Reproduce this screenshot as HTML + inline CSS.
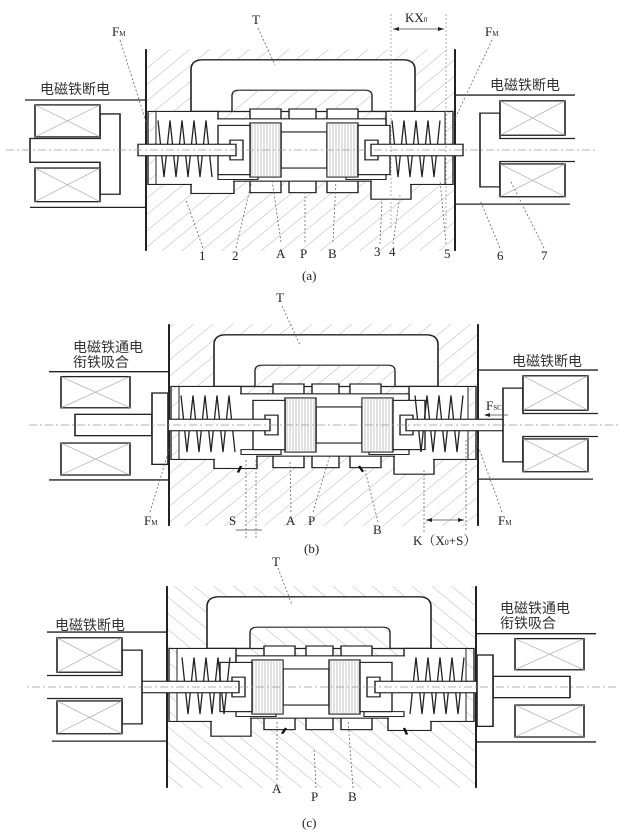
<!DOCTYPE html>
<html><head><meta charset="utf-8"><style>
html,body{margin:0;padding:0;background:#fff;}
svg{display:block}
text{font-family:"Liberation Serif","Noto Serif CJK SC",serif;fill:#222;font-size:13px}
.cn{font-family:"Liberation Sans","Noto Sans CJK SC",sans-serif;font-size:14px;fill:#333}
.ld{stroke:#666;stroke-width:0.8;stroke-dasharray:2,2;fill:none}
</style></head><body>
<svg width="630" height="836" viewBox="0 0 630 836" xmlns="http://www.w3.org/2000/svg">
<defs>
<pattern id="h" width="14" height="14" patternUnits="userSpaceOnUse" patternTransform="rotate(45)">
<line x1="0" y1="0" x2="0" y2="14" stroke="#999" stroke-width="0.8"/>
</pattern>
<pattern id="v" width="3" height="3" patternUnits="userSpaceOnUse">
<line x1="1" y1="0" x2="1" y2="3" stroke="#aaa" stroke-width="0.7"/>
</pattern>
<g id="body">
<rect x="0" y="-123" width="309" height="246" fill="url(#h)"/>
<path d="M45,-47 V-98 Q45,-110 57,-110 H257 Q269,-110 269,-98 V-47 Z" fill="#fff" stroke="#222" stroke-width="1.6"/>
<path d="M86,-47 V-66 Q86,-73 93,-73 H219 Q226,-73 226,-66 V-47 Z" fill="#fff" stroke="#222" stroke-width="1.4"/>
<path d="M86,-47 V-66 Q86,-73 93,-73 H219 Q226,-73 226,-66 V-47 Z" fill="url(#h)"/>
<g fill="#fff" stroke="#222" stroke-width="1.4">
<rect x="45" y="30" width="43" height="23"/>
<rect x="225" y="30" width="40" height="30"/>
<rect x="2" y="-47" width="70" height="89"/>
<rect x="240" y="-47" width="67" height="89"/>
<rect x="104" y="-50" width="31" height="102"/>
<rect x="143" y="-50" width="27" height="102"/>
<rect x="181" y="-50" width="31" height="102"/>
<rect x="70" y="-38" width="170" height="76"/>
</g>
<g fill="#fff" stroke="none">
<rect x="3" y="-46" width="68" height="87"/>
<rect x="241" y="-46" width="65" height="87"/>
<rect x="71" y="-37" width="168" height="74"/>
<rect x="46" y="31" width="41" height="21"/>
<rect x="226" y="31" width="38" height="28"/>
</g>
<rect x="2" y="-47" width="8" height="89" fill="url(#h)" stroke="#222" stroke-width="1"/>
<rect x="299" y="-47" width="8" height="89" fill="url(#h)" stroke="#222" stroke-width="1"/>
<line x1="0" y1="-123" x2="0" y2="123" stroke="#222" stroke-width="2"/>
<line x1="309" y1="-123" x2="309" y2="123" stroke="#222" stroke-width="2"/>
<rect x="72" y="30" width="40" height="6" fill="#fff" stroke="#222" stroke-width="1.2"/>
<rect x="200" y="30" width="40" height="6" fill="#fff" stroke="#222" stroke-width="1.2"/>
</g>
<g id="spool">
<rect x="135" y="-22" width="46" height="44" fill="#fff" stroke="#222" stroke-width="1.4"/>
<rect x="104" y="-33" width="31" height="66" fill="#fff" stroke="#222" stroke-width="1.4"/>
<rect x="104" y="-33" width="31" height="66" fill="url(#v)"/>
<rect x="181" y="-33" width="31" height="66" fill="#fff" stroke="#222" stroke-width="1.4"/>
<rect x="181" y="-33" width="31" height="66" fill="url(#v)"/>
<rect x="72" y="-30" width="32" height="60" fill="#fff" stroke="#222" stroke-width="1.4"/>
<rect x="212" y="-30" width="32" height="60" fill="#fff" stroke="#222" stroke-width="1.4"/>
<rect x="84" y="-12" width="13" height="24" fill="#fff" stroke="#222" stroke-width="1.4"/>
<rect x="219" y="-12" width="13" height="24" fill="#fff" stroke="#222" stroke-width="1.4"/>
</g>
<g id="springs" fill="none" stroke="#222" stroke-width="1.3">
<polyline points="12,-36 18,33 24,-36 30,33 36,-36 42,33 48,-36 54,33 60,-36 66,33"/>
<polyline points="246,-36 252,33 258,-36 264,33 270,-36 276,33 282,-36 288,33 294,-36"/>
</g>
<g id="solL_off" stroke="#222" stroke-width="1.6" fill="#fff">
<line x1="-121" y1="-61" x2="0" y2="-61"/>
<line x1="-116" y1="70" x2="0" y2="70"/>
<path d="M-116,-14 H-46 V-44 H-26 V54 H-46 V15 H-116 Z"/>
<rect x="-111" y="-55" width="65" height="39"/>
<rect x="-111" y="22" width="65" height="41"/>
<path d="M-111,-55 L-46,-16 M-46,-55 L-111,-16 M-111,22 L-46,63 M-46,22 L-111,63" stroke="#aaa" stroke-width="0.8"/>
</g>
<g id="solL_on" stroke="#222" stroke-width="1.6" fill="#fff">
<line x1="-120" y1="-65" x2="0" y2="-65"/>
<line x1="-120" y1="67" x2="0" y2="67"/>
<rect x="-108" y="-59" width="69" height="38"/>
<rect x="-108" y="22" width="69" height="39"/>
<path d="M-108,-59 L-39,-21 M-39,-59 L-108,-21 M-108,22 L-39,61 M-39,22 L-108,61" stroke="#aaa" stroke-width="0.8"/>
<rect x="-94" y="-13" width="77" height="26"/>
<rect x="-17" y="-39" width="16" height="87"/>
</g>
<g id="solR_off" stroke="#222" stroke-width="1.6" fill="#fff">
<line x1="309" y1="-67" x2="429" y2="-67"/>
<line x1="309" y1="66" x2="424" y2="66"/>
<path d="M429,-14 H354 V-45 H334 V45 H354 V14 H429"/>
<rect x="354" y="-60" width="65" height="42"/>
<rect x="354" y="17" width="65" height="40"/>
<path d="M354,-60 L419,-18 M419,-60 L354,-18 M354,17 L419,57 M419,17 L354,57" stroke="#aaa" stroke-width="0.8"/>
</g>
</defs>

<!-- Panel a -->
<g transform="translate(146,150) scale(1,0.82)">
<use href="#body"/>
<use href="#spool"/>
<use href="#springs"/>
<rect x="-8" y="-7" width="98" height="14" fill="#fff" stroke="#222" stroke-width="1.4"/>
<rect x="225" y="-7" width="92" height="14" fill="#fff" stroke="#222" stroke-width="1.4"/>
<use href="#solL_off"/>
<use href="#solR_off"/>
<line x1="-140" y1="0" x2="450" y2="0" stroke="#999" stroke-width="0.8" stroke-dasharray="8,3,2,3"/>
</g>
<text x="252" y="24" font-size="14">T</text>
<line class="ld" x1="258" y1="28" x2="275" y2="65"/>
<text x="112" y="36">F<tspan font-size="7">M</tspan></text>
<line class="ld" x1="120" y1="40" x2="148" y2="128"/>
<text x="485" y="36">F<tspan font-size="7">M</tspan></text>
<line class="ld" x1="492" y1="40" x2="452" y2="125"/>
<text x="405" y="22">KX<tspan font-size="7">0</tspan></text>
<line x1="391" y1="14" x2="391" y2="230" stroke="#999" stroke-width="0.8" stroke-dasharray="2,2"/>
<line x1="446" y1="14" x2="446" y2="230" stroke="#999" stroke-width="0.8" stroke-dasharray="2,2"/>
<line x1="393" y1="29" x2="444" y2="29" stroke="#444" stroke-width="0.8"/>
<path d="M393,29 l6,-2 v4 z M444,29 l-6,-2 v4 z" fill="#222"/>
<text class="cn" x="40" y="94">电磁铁断电</text>
<text class="cn" x="490" y="90">电磁铁断电</text>
<g font-size="12">
<text x="199" y="260">1</text><text x="232" y="260">2</text>
<text x="276" y="258" font-size="14">A</text><text x="300" y="258" font-size="14">P</text><text x="328" y="258" font-size="14">B</text>
<text x="374" y="256">3</text><text x="389" y="256">4</text><text x="444" y="258">5</text>
<text x="497" y="260">6</text><text x="541" y="260">7</text>
<text x="302" y="280">(a)</text>
</g>
<path class="ld" d="M203,248 L186,200 M236,248 L252,180 M281,242 L272,180 M305,242 L305,190 M333,242 L336,180 M380,244 L382,200 M393,244 L400,195 M446,244 L440,180 M500,248 L480,200 M544,248 L510,180"/>

<!-- Panel b -->
<g transform="translate(169,425) scale(1,0.82)">
<use href="#body"/>
<g transform="translate(12,0)"><use href="#spool"/></g>
<use href="#springs"/>
<rect x="-1" y="-7" width="102" height="14" fill="#fff" stroke="#222" stroke-width="1.4"/>
<rect x="237" y="-7" width="100" height="14" fill="#fff" stroke="#222" stroke-width="1.4"/>
<use href="#solL_on"/>
<use href="#solR_off"/>
<path d="M72,50 l-3,8 M190,50 l4,7" stroke="#111" stroke-width="2.5"/>
<line x1="-140" y1="0" x2="450" y2="0" stroke="#999" stroke-width="0.8" stroke-dasharray="8,3,2,3"/>
</g>
<text x="276" y="302" font-size="14">T</text>
<line class="ld" x1="282" y1="306" x2="300" y2="345"/>
<text class="cn" x="73" y="352">电磁铁通电</text>
<text class="cn" x="73" y="367">衔铁吸合</text>
<text class="cn" x="512" y="366">电磁铁断电</text>
<text x="486" y="410">F<tspan font-size="7">SC</tspan></text>
<line x1="486" y1="415" x2="508" y2="415" stroke="#444" stroke-width="0.8"/>
<path d="M484,415 l6,-2 v4 z" fill="#222"/>
<text x="144" y="525">F<tspan font-size="7">M</tspan></text>
<line class="ld" x1="150" y1="512" x2="172" y2="440"/>
<text x="498" y="525">F<tspan font-size="7">M</tspan></text>
<line class="ld" x1="502" y1="512" x2="476" y2="440"/>
<text x="229" y="525">S</text>
<line class="ld" x1="246" y1="460" x2="246" y2="540"/>
<line class="ld" x1="256" y1="460" x2="256" y2="540"/>
<line x1="236" y1="530" x2="262" y2="530" stroke="#444" stroke-width="0.8"/>
<text x="286" y="525" font-size="14">A</text><text x="308" y="525" font-size="14">P</text><text x="373" y="534" font-size="14">B</text>
<path class="ld" d="M291,512 L290,460 M313,512 L330,455 M378,522 L365,470"/>
<text x="413" y="545" font-size="14">K（X<tspan font-size="8">0</tspan>+S）</text>
<line class="ld" x1="424" y1="470" x2="424" y2="532"/>
<line class="ld" x1="466" y1="440" x2="466" y2="532"/>
<line x1="426" y1="520" x2="464" y2="520" stroke="#444" stroke-width="0.8"/>
<path d="M426,520 l6,-2 v4 z M464,520 l-6,-2 v4 z" fill="#222"/>
<text x="304" y="553">(b)</text>

<!-- Panel c (mirror of b) -->
<g transform="translate(476,687) scale(-1,0.82)">
<use href="#body"/>
<g transform="translate(12,0)"><use href="#spool"/></g>
<use href="#springs"/>
<rect x="-1" y="-7" width="102" height="14" fill="#fff" stroke="#222" stroke-width="1.4"/>
<rect x="237" y="-7" width="100" height="14" fill="#fff" stroke="#222" stroke-width="1.4"/>
<use href="#solL_on"/>
<use href="#solR_off"/>
<path d="M72,50 l-3,8 M190,50 l4,7" stroke="#111" stroke-width="2.5"/>
<line x1="-140" y1="0" x2="450" y2="0" stroke="#999" stroke-width="0.8" stroke-dasharray="8,3,2,3"/>
</g>
<text x="272" y="566" font-size="14">T</text>
<line class="ld" x1="278" y1="568" x2="292" y2="605"/>
<text class="cn" x="55" y="630">电磁铁断电</text>
<text class="cn" x="500" y="613">电磁铁通电</text>
<text class="cn" x="500" y="628">衔铁吸合</text>
<text x="272" y="793" font-size="14">A</text><text x="311" y="801" font-size="14">P</text><text x="348" y="801" font-size="14">B</text>
<path class="ld" d="M277,780 L277,720 M316,788 L314,748 M353,788 L348,720"/>
<text x="302" y="827">(c)</text>
</svg></body></html>
